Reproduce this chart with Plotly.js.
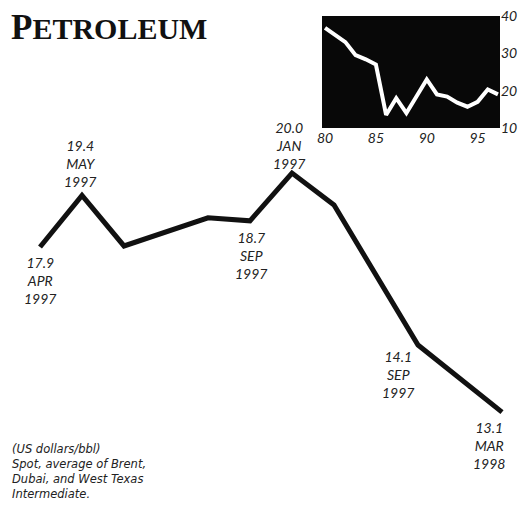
<!DOCTYPE html>
<html><head><meta charset="utf-8">
<script src="https://cdn.plot.ly/plotly-3.0.1.min.js"></script>
<style>html,body{margin:0;padding:0;background:#fff;}#chart{width:518px;height:510px;}</style>
</head><body><div id="chart"></div>
<script>
// Main series: month index (0 = Apr 1997) and spot price, US$/bbl
const monthIdx = [0, 1, 2, 4, 5, 6, 7, 9, 11];
const prices   = [17.9, 19.4, 17.93, 18.75, 18.66, 20.05, 19.12, 15.05, 13.1];

// Point labels: which point, value text, month text, year text
const labelPoint = [0, 1, 4, 5, 7, 8];
const labelValue = ["17.9", "19.4", "18.7", "20.0", "14.1", "13.1"];
const labelMonth = ["APR", "MAY", "SEP", "JAN", "SEP", "MAR"];
const labelYear  = ["1997", "1997", "1997", "1997", "1997", "1998"];

// Inset: long-run annual prices, 1980-1997
const insetYears  = [80, 81, 82, 83, 84, 85, 86, 87, 88, 89, 90, 91, 92, 93, 94, 95, 96, 97];
const insetPrices = [36.8, 35.0, 33.0, 29.5, 28.4, 27.0, 13.5, 18.0, 14.0, 18.5, 23.0, 19.0, 18.4, 16.8, 15.7, 17.0, 20.3, 19.0];
const insetXTicks = [80, 85, 90, 95];
const insetYTicks = [10, 20, 30, 40];

// Footnote lines
const noteLines = ["(US dollars/bbl)", "Spot, average of Brent,", "Dubai, and West Texas", "Intermediate."];

const W = 518, H = 510;
const labelFont = {family: "Lato, 'Open Sans', sans-serif", size: 14, color: "#222", style: "italic"};
// label placement offsets (px) relative to their points
const shifts = [[0,-33],[-2,32],[1,-35],[-3,28],[-20,-29],[-13,-33]];

const annotations = labelPoint.map((p, i) => ({
  x: monthIdx[p], y: prices[p], xref: "x", yref: "y",
  xshift: shifts[i][0], yshift: shifts[i][1],
  text: labelValue[i] + "<br>" + labelMonth[i] + "<br>" + labelYear[i],
  showarrow: false, xanchor: "center", yanchor: "middle", align: "center",
  font: labelFont
}));

annotations.push({
  xref: "paper", yref: "paper", x: 9 / W, y: 1 - 27 / H, xanchor: "left", yanchor: "middle",
  showarrow: false,
  text: "<span style='font-size:35px'>P</span><span style='font-size:30px'>ETROLEUM</span>",
  font: {family: "'Liberation Serif', serif", size: 30, color: "#111", weight: 700}
});
annotations.push({
  xref: "paper", yref: "paper", x: 10 / W, y: 1 - 471 / H, xanchor: "left", yanchor: "middle",
  showarrow: false, align: "left", text: noteLines.join("<br>"),
  font: {family: "'DejaVu Sans', 'Open Sans', sans-serif", size: 11.5, color: "#222", style: "italic"}
});

const traces = [
  {x: monthIdx, y: prices, type: "scatter", mode: "lines",
   line: {color: "#111", width: 5}, xaxis: "x", yaxis: "y", hoverinfo: "skip"},
  {x: insetYears, y: insetPrices, type: "scatter", mode: "lines",
   line: {color: "#fff", width: 4}, xaxis: "x2", yaxis: "y2", hoverinfo: "skip"}
];

const pxPerMonth = 42, x0px = 40;
const pxPerUnit = 34.4, yRefPx = 247, yRefVal = 17.9;
const tickFont = {family: "Lato, 'Open Sans', sans-serif", size: 14, color: "#222", style: "italic"};
const layout = {
  width: W, height: H, margin: {l: 0, r: 0, t: 0, b: 0},
  paper_bgcolor: "#fff", plot_bgcolor: "rgba(0,0,0,0)", showlegend: false,
  xaxis: {domain: [0, 1], range: [-x0px / pxPerMonth, (W - x0px) / pxPerMonth], visible: false, fixedrange: true},
  yaxis: {domain: [0, 1], range: [yRefVal - (H - yRefPx) / pxPerUnit, yRefVal + yRefPx / pxPerUnit], visible: false, fixedrange: true},
  xaxis2: {domain: [322 / W, 500 / W], range: [79.7, 97.2], anchor: "y2",
    tickvals: insetXTicks, ticks: "", showgrid: false, zeroline: false, showline: false,
    tickfont: tickFont},
  yaxis2: {domain: [1 - 128 / H, 1 - 16 / H], range: [10, 40], anchor: "x2", side: "right",
    tickvals: insetYTicks, ticks: "", showgrid: false, zeroline: false, showline: false,
    tickfont: tickFont},
  shapes: [{type: "rect", xref: "x2 domain", yref: "y2 domain", x0: 0, x1: 1, y0: 0, y1: 1,
    fillcolor: "#080808", line: {width: 0}, layer: "below"}],
  annotations: annotations
};
Plotly.newPlot("chart", traces, layout, {staticPlot: true});
</script></body></html>
